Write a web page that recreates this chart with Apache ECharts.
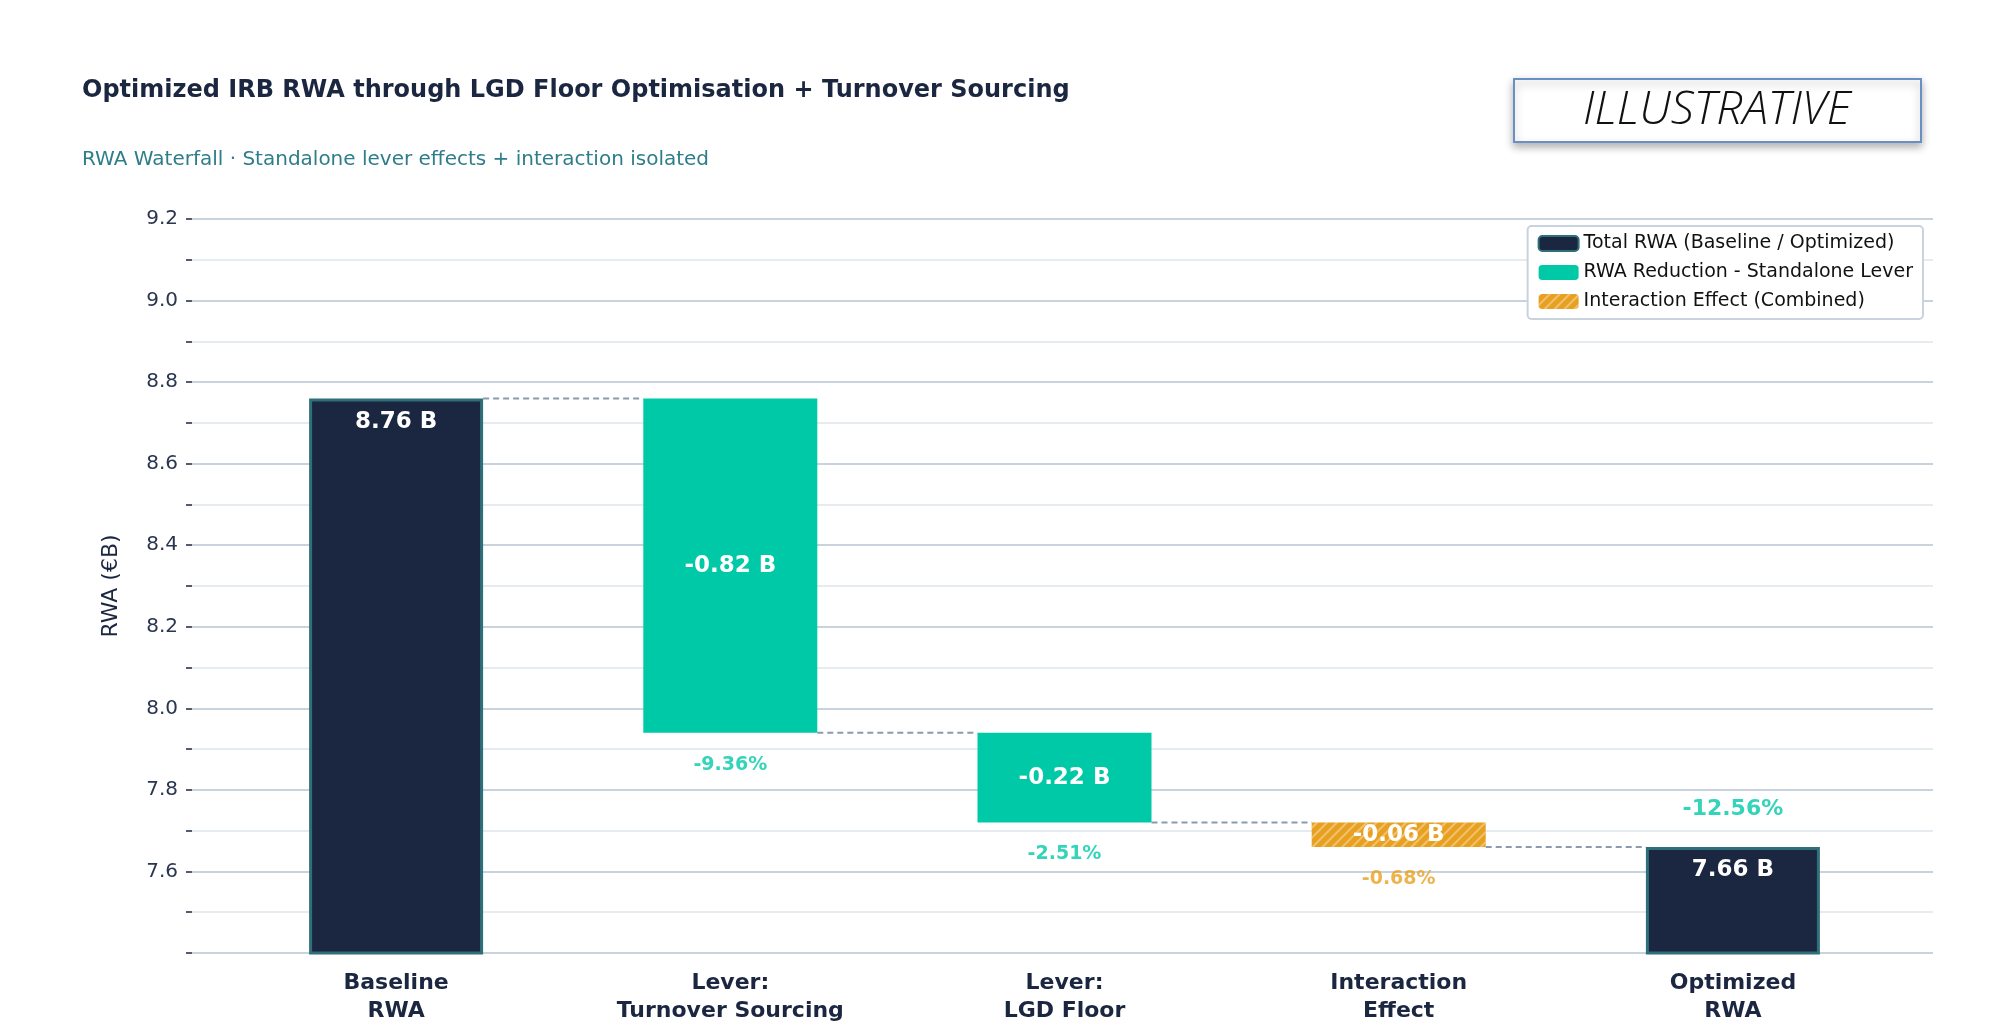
<!DOCTYPE html>
<html>
<head>
<meta charset="utf-8">
<script src="https://cdn.jsdelivr.net/npm/echarts@6/dist/echarts.min.js"></script>
<style>html,body{margin:0;padding:0;background:#fff}#chart{width:2000px;height:1035px}</style>
</head>
<body>
<div id="chart"></div>
<script>
// 数据
var categories = ['Baseline\nRWA', 'Lever:\nTurnover Sourcing', 'Lever:\nLGD Floor', 'Interaction\nEffect', 'Optimized\nRWA'];
var totals = [8.76, '-', '-', '-', 7.66];
var bases = ['-', 7.94, 7.72, 7.66, '-'];
var reductions = ['-', 0.82, 0.22, '-', '-'];
var interaction = ['-', '-', '-', 0.06, '-'];
var barLabels = ['8.76 B', '-0.82 B', '-0.22 B', '-0.06 B', '7.66 B'];
var pctLabels = ['', '-9.36%', '-2.51%', '-0.68%', '-12.56%'];
var pctLevels = [null, 7.94, 7.72, 7.66, 7.66];
var connectorLevels = [8.76, 7.94, 7.72, 7.66];

var DARK = '#1b2640', TEAL = '#00c9a7', ORANGE = '#e8a020';
var BAR_W = 174;

var myChart = echarts.init(document.getElementById('chart'));

function lbl(i, pos, color) {
    return { show: true, position: pos, color: color || '#fff', fontSize: 23, fontWeight: 'bold',
        fontFamily: 'DejaVu Sans', formatter: function () { return barLabels[i]; } };
}

var option = {
    animation: false,
    backgroundColor: '#fff',
    title: [
        { text: 'Optimized IRB RWA through LGD Floor Optimisation + Turnover Sourcing', left: 77, top: 74,
          textStyle: { fontFamily: 'DejaVu Sans', fontSize: 24, fontWeight: 'bold', color: DARK } },
        { text: 'RWA Waterfall · Standalone lever effects + interaction isolated', left: 77, top: 145,
          textStyle: { fontFamily: 'DejaVu Sans', fontSize: 20, fontWeight: 'normal', color: '#2e7d8a' } }
    ],
    graphic: [{
        type: 'group', left: 1513, top: 78,
        children: [
            { type: 'rect', shape: { width: 407, height: 63 },
              style: { fill: '#fff', stroke: '#6a8fc4', lineWidth: 2, shadowBlur: 8, shadowOffsetY: 4, shadowColor: 'rgba(0,0,0,0.3)' } },
            { type: 'text', x: 203, y: 32,
              style: { text: 'ILLUSTRATIVE', fontFamily: 'Open Sans', fontStyle: 'italic', fontWeight: 300, fontSize: 46,
                       fill: '#111', align: 'center', verticalAlign: 'middle' } }
        ]
    }],
    legend: {
        orient: 'vertical', right: 77, top: 226, padding: [8, 10, 8, 10], itemGap: 10,
        itemWidth: 40, itemHeight: 15, borderColor: '#c9d3de', borderWidth: 2, borderRadius: 4,
        backgroundColor: '#fff',
        textStyle: { fontFamily: 'DejaVu Sans', fontSize: 19, color: '#111' },
        data: ['Total RWA (Baseline / Optimized)', 'RWA Reduction - Standalone Lever', 'Interaction Effect (Combined)']
    },
    grid: [
        { left: 192, right: 67, top: 219, bottom: 82 },
        { left: 229, right: 100, top: 219, bottom: 82 }
    ],
    xAxis: [
        { type: 'value', gridIndex: 0, show: false, min: 0, max: 1 },
        { type: 'category', gridIndex: 1, data: categories,
          axisLine: { show: false }, axisTick: { show: false },
          axisLabel: { margin: 16, fontFamily: 'DejaVu Sans', fontSize: 22, fontWeight: 'bold', color: DARK, lineHeight: 28 } }
    ],
    yAxis: [
        { type: 'value', gridIndex: 0, min: 7.4, max: 9.2, interval: 0.1,
          name: 'RWA (€B)', nameLocation: 'middle', nameGap: 70,
          nameTextStyle: { fontFamily: 'DejaVu Sans', fontSize: 22, color: DARK },
          axisLine: { show: false },
          axisTick: { show: true, length: 6, lineStyle: { color: DARK, width: 1.5 } },
          axisLabel: { margin: 14, fontFamily: 'DejaVu Sans', fontSize: 20, color: '#2a3550',
              formatter: function (v) { var k = Math.round(v * 10); return (k % 2 === 0 && k > 74) ? v.toFixed(1) : ''; } },
          splitLine: { lineStyle: { color: ['#c9d3de', '#e6ebf0'], width: 2 } } },
        { type: 'value', gridIndex: 1, min: 7.4, max: 9.2, show: false, splitLine: { show: false } }
    ],
    series: [
        { name: 'base', type: 'bar', xAxisIndex: 1, yAxisIndex: 1, stack: 'w', barWidth: BAR_W,
          itemStyle: { color: 'transparent' }, data: bases, silent: true },
        { name: 'Total RWA (Baseline / Optimized)', type: 'bar', xAxisIndex: 1, yAxisIndex: 1, stack: 'w', barWidth: BAR_W,
          itemStyle: { color: DARK, borderColor: '#2e6f7a', borderWidth: 3 },
          data: totals.map(function (v, i) { return v === '-' ? '-' : { value: v, label: lbl(i, 'insideTop') }; }),
          label: { distance: 12 } },
        { name: 'RWA Reduction - Standalone Lever', type: 'bar', xAxisIndex: 1, yAxisIndex: 1, stack: 'w', barWidth: BAR_W,
          itemStyle: { color: TEAL },
          data: reductions.map(function (v, i) { return v === '-' ? '-' : { value: v, label: lbl(i, 'inside') }; }) },
        { name: 'Interaction Effect (Combined)', type: 'bar', xAxisIndex: 1, yAxisIndex: 1, stack: 'w', barWidth: BAR_W,
          itemStyle: { color: ORANGE, decal: { symbol: 'rect', color: 'rgba(255,255,255,0.35)', rotation: -Math.PI / 4,
              dashArrayX: [1, 0], dashArrayY: [2, 5], symbolSize: 1 } },
          data: interaction.map(function (v, i) { return v === '-' ? '-' : { value: v, label: lbl(i, 'inside') }; }) },
        { name: 'pct', type: 'scatter', xAxisIndex: 1, yAxisIndex: 1, symbolSize: 1, itemStyle: { color: 'transparent' },
          data: pctLevels.map(function (v, i) {
              if (v === null) return '-';
              var above = i === 4;
              return { value: [i, v], label: { show: true, position: above ? 'top' : 'bottom', distance: above ? 26 : 22,
                  formatter: pctLabels[i], fontFamily: 'DejaVu Sans', fontSize: i === 4 ? 22 : 19, fontWeight: 'bold',
                  color: i === 3 ? ORANGE : TEAL } };
          }) },
        { name: 'conn', type: 'custom', xAxisIndex: 1, yAxisIndex: 1, silent: true,
          data: connectorLevels.map(function (v, i) { return [i, v]; }),
          renderItem: function (params, api) {
              var p1 = api.coord([api.value(0), api.value(1)]);
              var p2 = api.coord([api.value(0) + 1, api.value(1)]);
              return { type: 'line', shape: { x1: p1[0] + BAR_W / 2, y1: p1[1], x2: p2[0] - BAR_W / 2, y2: p2[1] },
                       style: { stroke: '#8a9bb0', lineWidth: 2, lineDash: [6, 4] } };
          } }
    ]
};

myChart.setOption(option);
</script>
</body>
</html>
